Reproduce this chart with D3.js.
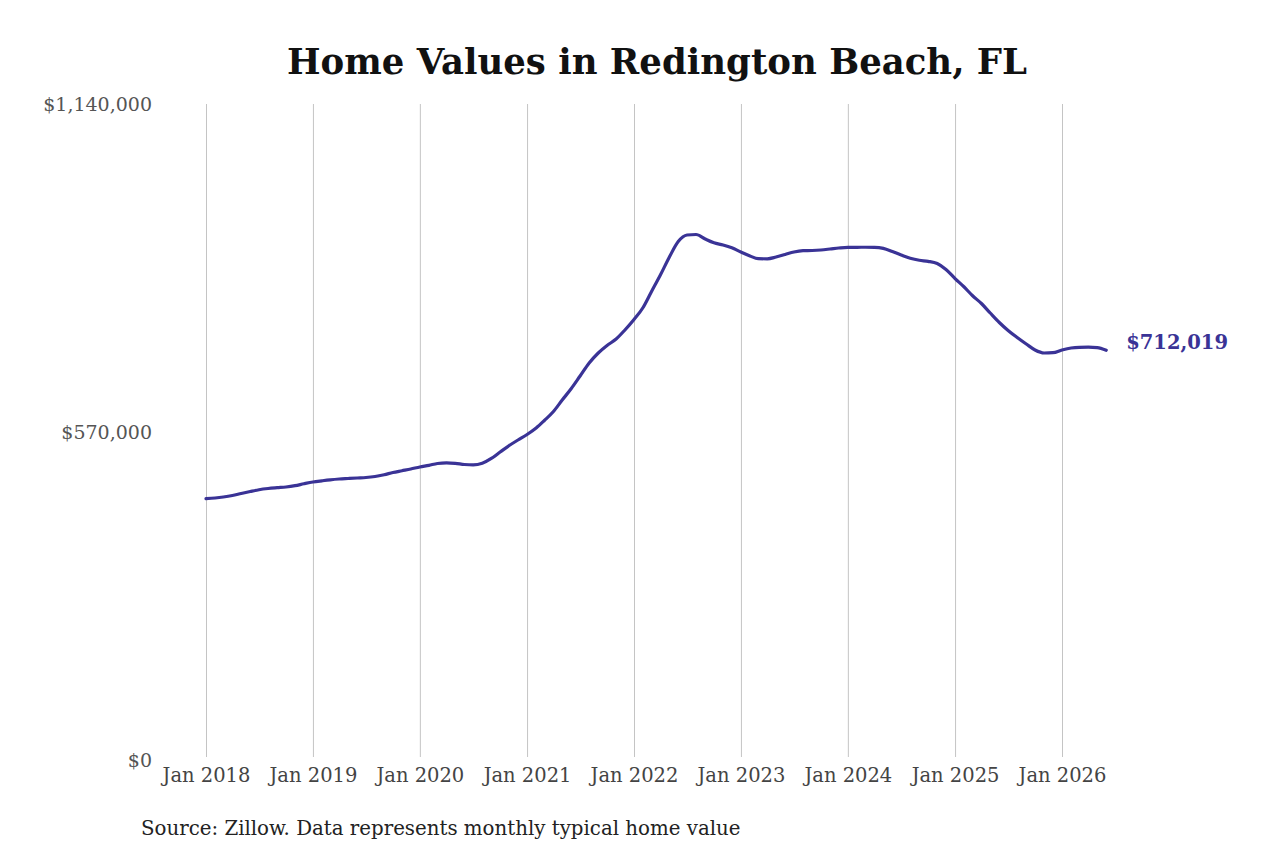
<!DOCTYPE html>
<html>
<head>
<meta charset="utf-8">
<script src="https://cdn.jsdelivr.net/npm/d3@7"></script>
<style>
  body { margin: 0; background: #fff; }
  svg { font-family: "DejaVu Serif", serif; }
</style>
</head>
<body>
<div id="chart"></div>
<script>
(function () {
  'use strict';

  // monthly typical home value, Jan 2018 onwards
  const startMonth = "2018-01-01";
  const homeValues = [
    454100, 455300, 457000, 459600, 463100, 466600, 469700, 471800, 473200, 474400, 476700, 480000,
    483100, 485200, 486900, 488300, 489200, 490100, 490900, 492700, 495800, 499600, 502700, 505700,
    509200, 512100, 515300, 516500, 515600, 513500, 512700, 515600, 524000, 535200, 546500, 556100,
    565700, 577000, 590000, 605600, 625600, 645600, 667300, 689900, 707300, 720300, 731600, 747300,
    765500, 786400, 813300, 842800, 873200, 901000, 912300, 913200, 905400, 898800, 895000, 890100,
    882800, 875900, 871200, 871000, 874100, 878500, 882800, 885100, 885400, 886300, 888000, 889800,
    891000, 891000, 891100, 891000, 889200, 883700, 877600, 871900, 868400, 866600, 862800, 852400,
    836700, 822000, 807200, 793300, 776800, 760300, 746400, 734200, 722900, 712500, 707300, 707800,
    712500, 716000, 717200, 717400, 716700, 712019
  ];
  const yTicks = [0, 570000, 1140000];
  const xTickYears = [2018, 2019, 2020, 2021, 2022, 2023, 2024, 2025, 2026];
  const titleText = "Home Values in Redington Beach, FL";
  const sourceText = "Source: Zillow. Data represents monthly typical home value";

  const width = 1280, height = 853;
  const lineColor = "#3a3396";

  const parse = d3.timeParse("%Y-%m-%d");
  const t0 = parse(startMonth);
  const data = homeValues.map((v, i) => ({ date: d3.timeMonth.offset(t0, i), value: v }));

  const svg = d3.select("#chart").append("svg")
      .attr("width", width)
      .attr("height", height)
      .attr("viewBox", `0 0 ${width} ${height}`);

  const x = d3.scaleTime()
      .domain([new Date(2018, 0, 1), new Date(2026, 0, 1)])
      .range([206, 1062]);
  const y = d3.scaleLinear()
      .domain([0, 1140000])
      .range([760, 104]);

  svg.append("text")
      .attr("x", 657)
      .attr("y", 74)
      .attr("text-anchor", "middle")
      .attr("font-size", 35.5)
      .attr("font-weight", "bold")
      .attr("fill", "#111")
      .text(titleText);

  // vertical gridlines + year labels
  const xAxis = svg.append("g")
      .attr("transform", "translate(0,757)")
      .call(d3.axisBottom(x)
        .tickValues(xTickYears.map(yr => new Date(yr, 0, 1)))
        .tickFormat(d3.timeFormat("%b %Y"))
        .tickSizeInner(-(757 - 104))
        .tickSizeOuter(0)
        .tickPadding(11));
  xAxis.select(".domain").remove();
  xAxis.selectAll(".tick line").attr("stroke", "#c4c4c4").attr("stroke-width", 1);
  xAxis.selectAll(".tick text")
      .attr("font-family", "DejaVu Serif, serif")
      .attr("font-size", 19.5)
      .attr("fill", "#444");

  const yAxis = svg.append("g")
      .attr("transform", "translate(152,0)")
      .call(d3.axisLeft(y)
        .tickValues(yTicks)
        .tickFormat(d3.format("$,.0f"))
        .tickSize(0)
        .tickPadding(0));
  yAxis.select(".domain").remove();
  yAxis.selectAll(".tick text")
      .attr("font-family", "DejaVu Serif, serif")
      .attr("font-size", 19)
      .attr("fill", "#555");

  const line = d3.line()
      .x(d => x(d.date))
      .y(d => y(d.value))
      .curve(d3.curveMonotoneX);

  svg.append("path")
      .datum(data)
      .attr("fill", "none")
      .attr("stroke", lineColor)
      .attr("stroke-width", 3.2)
      .attr("stroke-linejoin", "round")
      .attr("stroke-linecap", "round")
      .attr("d", line);

  const last = data[data.length - 1];
  svg.append("text")
      .attr("x", x(last.date) + 20)
      .attr("y", y(last.value) - 8)
      .attr("dy", "0.35em")
      .attr("font-size", 19.5)
      .attr("font-weight", "bold")
      .attr("fill", lineColor)
      .text(d3.format("$,.0f")(last.value));

  svg.append("text")
      .attr("x", 141)
      .attr("y", 835)
      .attr("font-size", 19.8)
      .attr("fill", "#222")
      .text(sourceText);
}());
</script>
</body>
</html>
